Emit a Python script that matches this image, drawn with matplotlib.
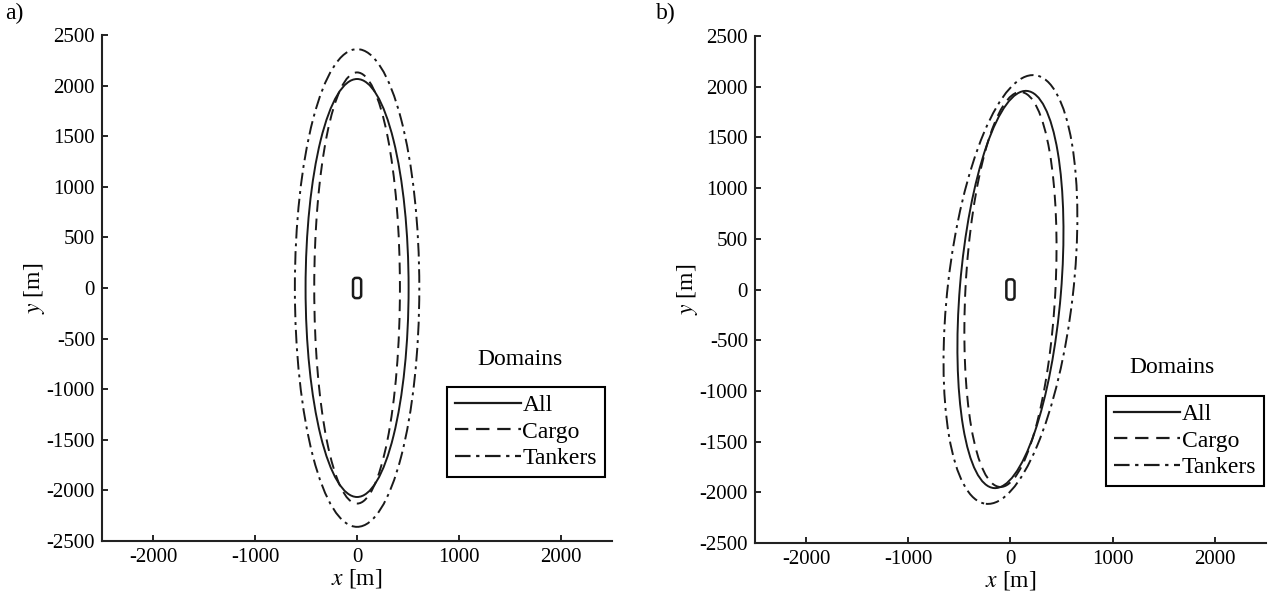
import matplotlib
matplotlib.use("Agg")
import matplotlib.pyplot as plt
from matplotlib.patches import Ellipse, FancyBboxPatch
from matplotlib.lines import Line2D

plt.rcParams['font.family'] = 'Liberation Serif'
plt.rcParams['mathtext.fontset'] = 'stix'
plt.rcParams['axes.unicode_minus'] = False

# domain ellipses: semi-minor (x), semi-major (y), tilt in degrees (clockwise)
domain_names = ['All', 'Cargo', 'Tankers']
a_minor = [505, 420, 610]
a_major = [2065, 2130, 2360]
a_tilt = [0, 0, 0]

b_minor = [495, 440, 613]
b_major = [1965, 1950, 2127]
b_tilt = [4.7, 3.0, 6.5]

# own ship (width, length) in metres
ship_size = (80, 200)

x_ticks = [-2000, -1000, 0, 1000, 2000]
y_ticks = [-2500, -2000, -1500, -1000, -500, 0, 500, 1000, 1500, 2000, 2500]

styles = ['-', (0, (6, 3.5)), (0, (7, 2.5, 1.5, 2.5))]
ink = '#1a1a1a'


def draw_panel(ax, minor, major, tilt, leg_anchor, title_pos):
    for i, name in enumerate(domain_names):
        ax.add_patch(Ellipse((0, 0), 2 * minor[i], 2 * major[i], angle=-tilt[i],
                             fill=False, edgecolor=ink, linewidth=1.4,
                             linestyle=styles[i]))
    w, h = ship_size
    ax.add_patch(FancyBboxPatch((-w / 2, -h / 2), w, h,
                                boxstyle="round,pad=0,rounding_size=30",
                                fill=False, edgecolor=ink, linewidth=1.8))
    ax.set_xlim(-2500, 2500)
    ax.set_ylim(-2500, 2500)
    ax.set_xticks(x_ticks)
    ax.set_yticks(y_ticks)
    ax.tick_params(direction='in', length=4, width=1.2, labelsize=15, pad=5)
    for s in ['top', 'right']:
        ax.spines[s].set_visible(False)
    for s in ['left', 'bottom']:
        ax.spines[s].set_linewidth(1.5)
        ax.spines[s].set_color('#222222')
    ax.set_xlabel(r'$x$ [m]', fontsize=17, labelpad=0)
    ax.set_ylabel(r'$y$ [m]', fontsize=17, labelpad=0)

    handles = [Line2D([], [], color=ink, linewidth=1.6, linestyle=styles[i])
               for i in range(len(domain_names))]
    leg = ax.legend(handles, domain_names, loc='lower left',
                    bbox_to_anchor=leg_anchor, borderaxespad=0,
                    fontsize=17, handlelength=2.8, handletextpad=0.05,
                    labelspacing=0.2, borderpad=0.35, fancybox=False,
                    framealpha=1, edgecolor='black')
    leg.get_frame().set_linewidth(1.5)
    ax.text(title_pos[0], title_pos[1], 'Domains', transform=ax.transAxes,
            ha='center', va='center', fontsize=17)


fig = plt.figure(figsize=(12.71, 6.01), dpi=100)
ax1 = fig.add_axes([0.0803, 0.0998, 0.4013, 0.842])
ax2 = fig.add_axes([0.594, 0.0965, 0.402, 0.8436])

draw_panel(ax1, a_minor, a_major, a_tilt, (0.676, 0.126), (0.82, 0.358))
draw_panel(ax2, b_minor, b_major, b_tilt, (0.687, 0.112), (0.816, 0.347))

fig.text(0.004, 0.995, 'a)', ha='left', va='top', fontsize=17)
fig.text(0.516, 0.995, 'b)', ha='left', va='top', fontsize=17)

fig.savefig('out.png', dpi=100)
